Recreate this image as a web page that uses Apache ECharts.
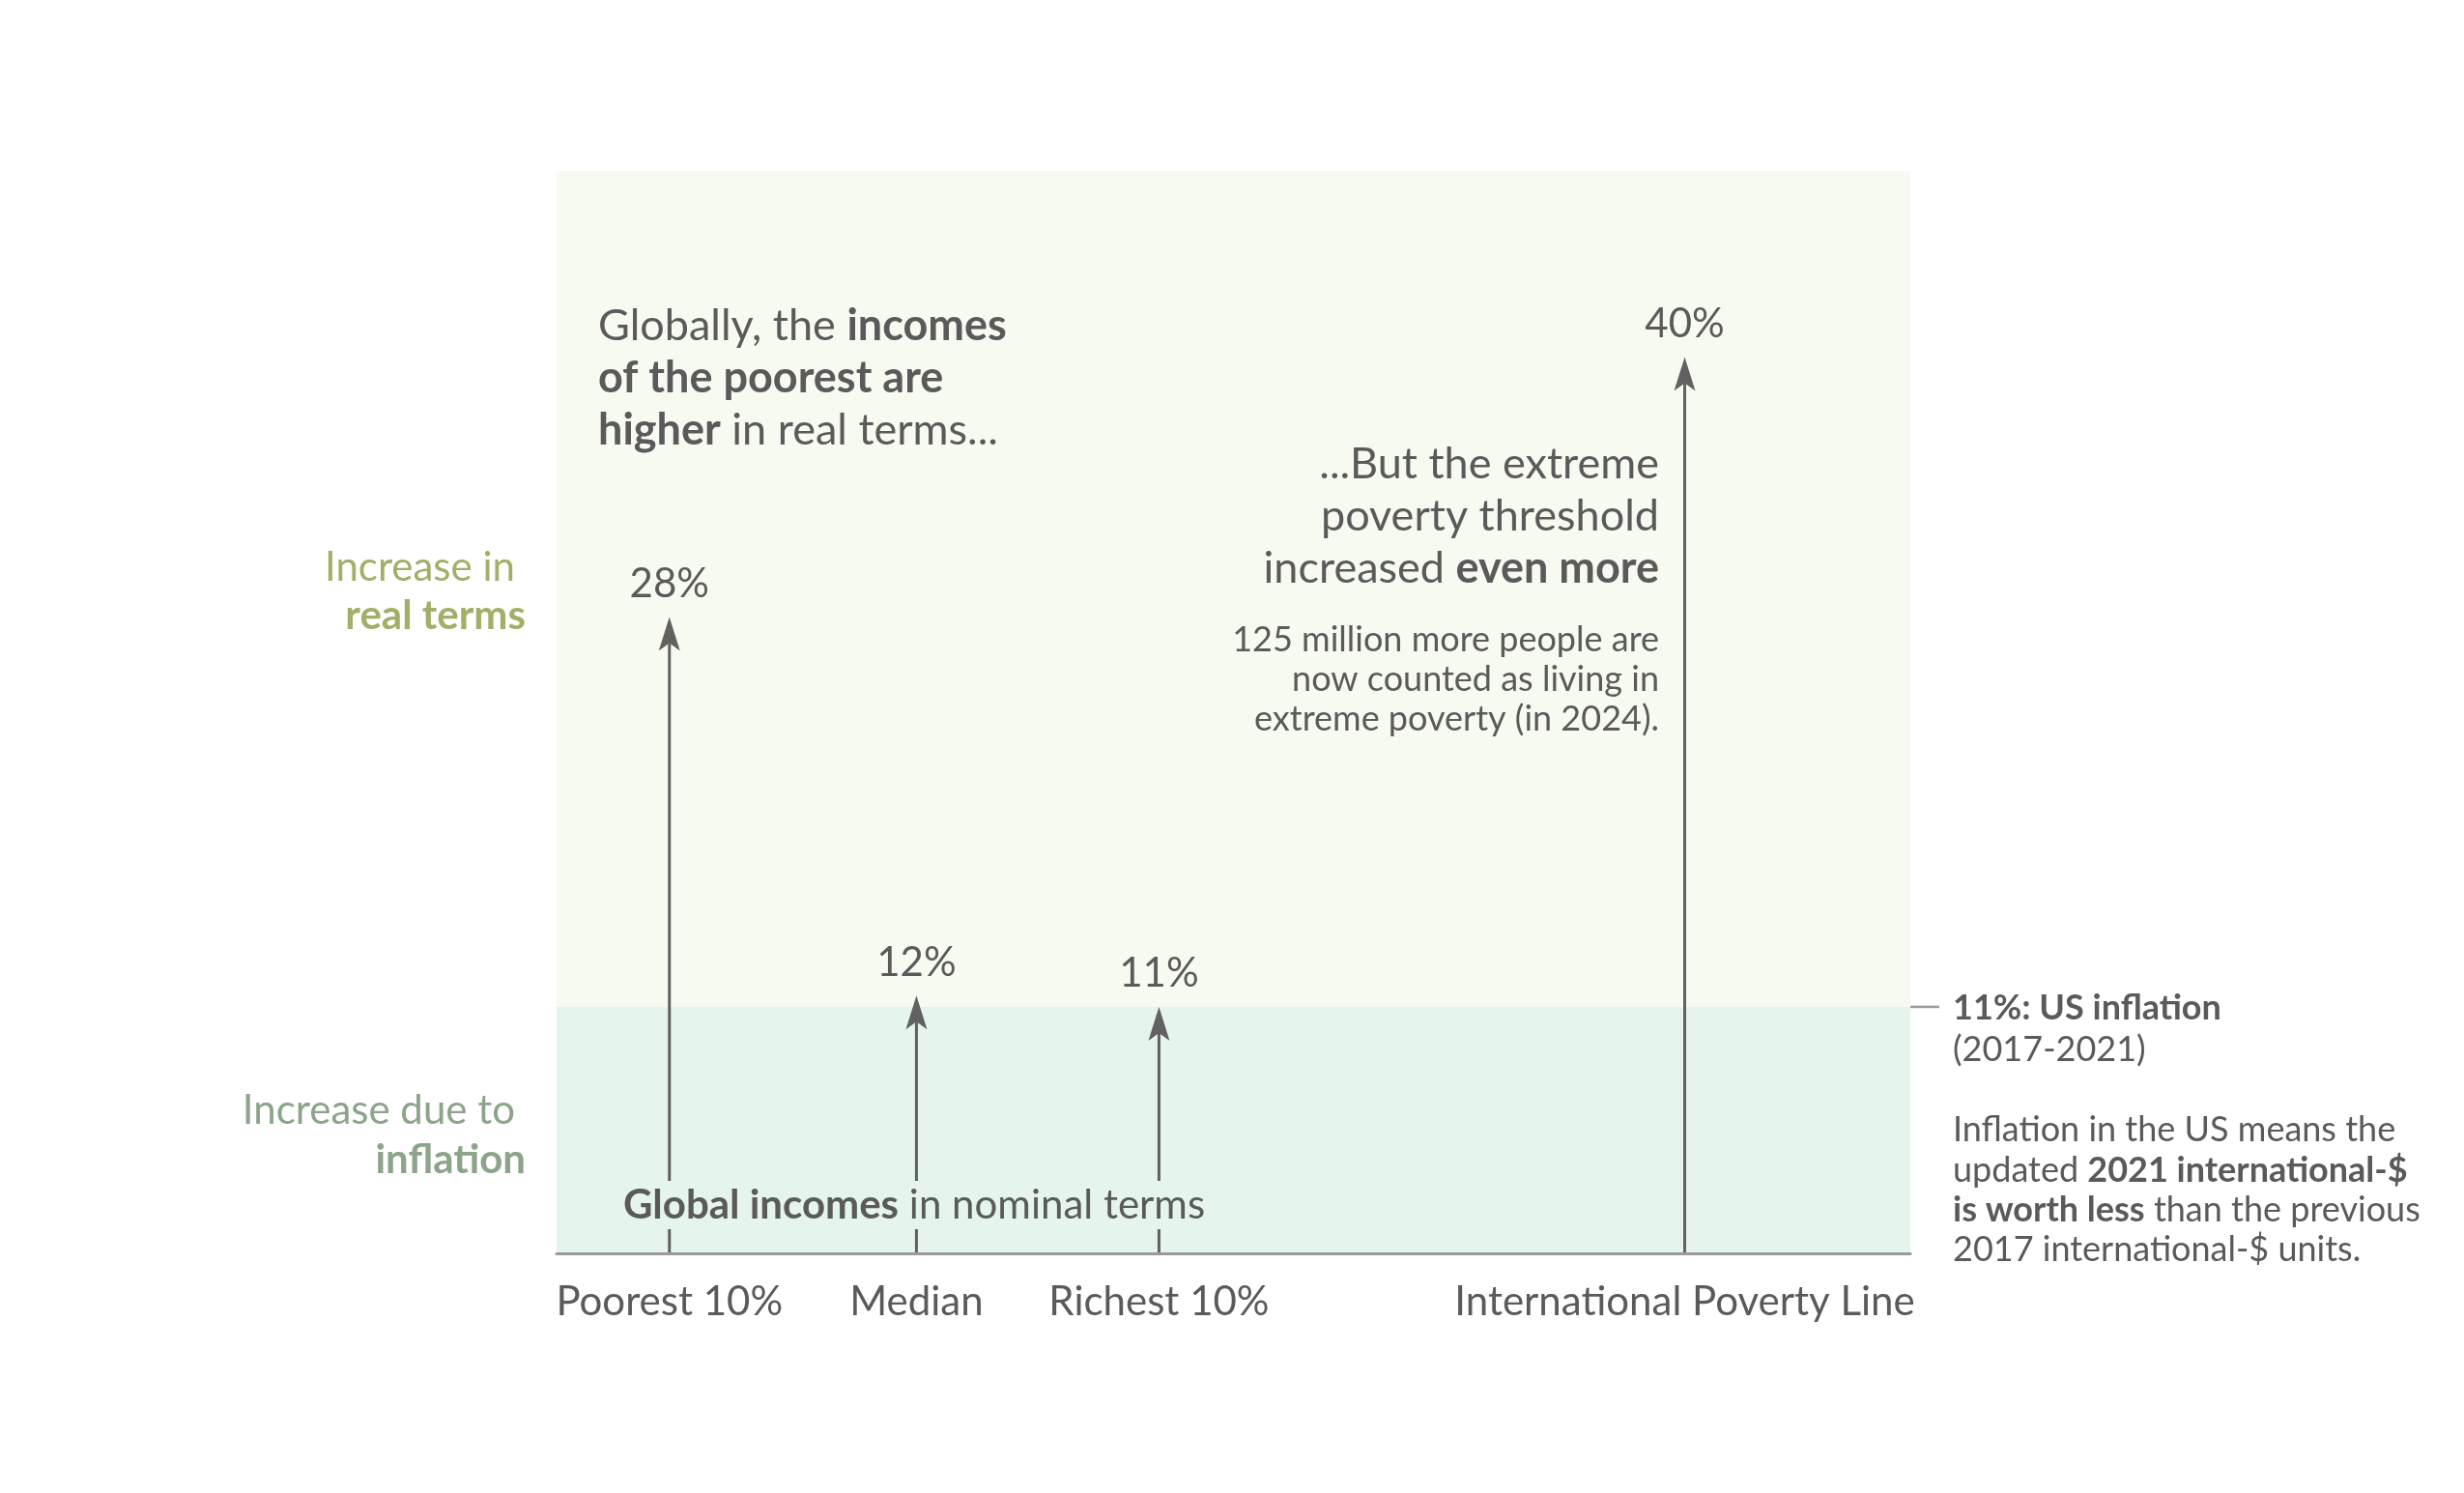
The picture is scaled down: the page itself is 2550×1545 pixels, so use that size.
<!DOCTYPE html>
<html>
<head>
<meta charset="utf-8">
<script src="https://cdn.jsdelivr.net/npm/echarts@6.0.0/dist/echarts.min.js"></script>
<style>
  html, body { margin: 0; padding: 0; background: #ffffff; }
  #chart { width: 2550px; height: 1545px; }
</style>
</head>
<body>
<div id="chart"></div>
<script>
// ---- data ----
const categories = ['Poorest 10%', 'Median', 'Richest 10%', 'International Poverty Line'];
const xPositions = [1, 3.19, 5.34, 10];
const increases = [28.4, 11.5, 11, 40];
const usInflation = 11;
const X_MAX = 12;
const Y_MAX = 48.3;

// ---- styles ----
const FONT = 'Lato';
const TEXT = '#5a5a5a';
const ARROW = '#616161';
const UPPER_BG = '#f7faf1';
const LOWER_BG = '#e5f5eb';
const REAL_GREEN = '#a3ae68';
const INFL_GREEN = '#8ca489';

const chart = echarts.init(document.getElementById('chart'), null, { renderer: 'canvas' });

const arrowData = xPositions.map((x, i) => [x, increases[i]]);

function rich(size, lh, color) {
  return {
    r: { fontFamily: FONT, fontSize: size, lineHeight: lh, fill: color || TEXT },
    b: { fontFamily: FONT, fontSize: size, lineHeight: lh, fill: color || TEXT, fontWeight: 'bold' }
  };
}

const option = {
  backgroundColor: '#ffffff',
  animation: false,
  grid: { left: 576, right: 573, top: 177, bottom: 248, containLabel: false, outerBoundsMode: 'none' },
  xAxis: {
    type: 'value', min: 0, max: X_MAX, z: 10,
    splitLine: { show: false },
    axisTick: { show: false },
    axisLine: { show: true, lineStyle: { color: '#9a9a9a', width: 3 } },
    axisLabel: {
      customValues: xPositions,
      formatter: function (v) {
        const i = xPositions.indexOf(v);
        return i >= 0 ? categories[i] : '';
      },
      fontFamily: FONT, fontSize: 42, color: TEXT, margin: 29, lineHeight: 42
    }
  },
  yAxis: {
    type: 'value', min: 0, max: Y_MAX, show: false,
    splitLine: { show: false }
  },
  series: [
    {
      type: 'custom',
      name: 'inflation',
      z: 1,
      clip: false,
      silent: true,
      data: [[X_MAX, usInflation]],
      renderItem: function (params, api) {
        const p = api.coord([api.value(0), api.value(1)]);
        return {
          type: 'line',
          shape: { x1: p[0], y1: p[1], x2: p[0] + 30, y2: p[1] },
          style: { stroke: '#9a9a9a', lineWidth: 2.5 }
        };
      },
      markArea: {
        silent: true,
        label: { show: false },
        data: [
          [{ xAxis: 0, yAxis: usInflation, itemStyle: { color: UPPER_BG } }, { xAxis: X_MAX, yAxis: Y_MAX }],
          [{ xAxis: 0, yAxis: 0, itemStyle: { color: LOWER_BG } }, { xAxis: X_MAX, yAxis: usInflation }]
        ]
      }
    },
    {
      type: 'custom',
      name: 'increase',
      z: 3,
      clip: false,
      silent: true,
      data: arrowData,
      renderItem: function (params, api) {
        const x = api.value(0), v = api.value(1);
        const base = api.coord([x, 0]);
        const tip = api.coord([x, v]);
        const headLen = 35, headHalf = 11, notch = 8;
        return {
          type: 'group',
          children: [
            {
              type: 'line',
              shape: { x1: base[0], y1: base[1], x2: tip[0], y2: tip[1] + headLen - notch },
              style: { stroke: ARROW, lineWidth: 3 }
            },
            {
              type: 'polygon',
              shape: { points: [[tip[0], tip[1]], [tip[0] - headHalf, tip[1] + headLen], [tip[0], tip[1] + headLen - notch], [tip[0] + headHalf, tip[1] + headLen]] },
              style: { fill: ARROW }
            },
            {
              type: 'text',
              x: tip[0], y: tip[1] - 34,
              style: {
                text: Math.round(v) + '%',
                align: 'center', verticalAlign: 'middle',
                fontFamily: FONT, fontSize: 42, fill: TEXT
              }
            }
          ]
        };
      }
    }
  ],
  graphic: [
    {
      type: 'text', x: 619, y: 310, z: 100,
      style: {
        text: '{r|Globally, the }{b|incomes}\n{b|of the poorest are}\n{b|higher}{r| in real terms...}',
        rich: rich(45, 54), align: 'left', verticalAlign: 'top'
      }
    },
    {
      type: 'text', x: 533, y: 587, z: 100,
      style: { text: 'Increase in', fontFamily: FONT, fontSize: 42, fill: REAL_GREEN, align: 'right', verticalAlign: 'middle' }
    },
    {
      type: 'text', x: 544, y: 637, z: 100,
      style: { text: 'real terms', fontFamily: FONT, fontSize: 42, fontWeight: 'bold', fill: REAL_GREEN, align: 'right', verticalAlign: 'middle' }
    },
    {
      type: 'text', x: 533, y: 1149, z: 100,
      style: { text: 'Increase due to', fontFamily: FONT, fontSize: 42, fill: INFL_GREEN, align: 'right', verticalAlign: 'middle' }
    },
    {
      type: 'text', x: 544, y: 1200, z: 100,
      style: { text: 'inflation', fontFamily: FONT, fontSize: 42, fontWeight: 'bold', fill: INFL_GREEN, align: 'right', verticalAlign: 'middle' }
    },
    {
      type: 'text', x: 1717, y: 453, z: 100,
      style: {
        text: '{r|...But the extreme}\n{r|poverty threshold}\n{r|increased }{b|even more}',
        rich: rich(45, 54), align: 'right', verticalAlign: 'top'
      }
    },
    {
      type: 'text', x: 1717, y: 642, z: 100,
      style: {
        text: '{r|125 million more people are}\n{r|now counted as living in}\n{r|extreme poverty (in 2024).}',
        rich: rich(36, 41), align: 'right', verticalAlign: 'top'
      }
    },
    {
      type: 'text', x: 946, y: 1247, z: 100,
      style: {
        text: '{b|Global incomes}{r| in nominal terms}',
        rich: rich(42, 40), align: 'center', verticalAlign: 'middle',
        backgroundColor: LOWER_BG, padding: [5, 12]
      }
    },
    {
      type: 'text', x: 2021, y: 1022, z: 100,
      style: {
        text: '{b|11%: US inflation}\n{r|(2017-2021)}',
        rich: rich(36, 43), align: 'left', verticalAlign: 'top'
      }
    },
    {
      type: 'text', x: 2021, y: 1149, z: 100,
      style: {
        text: '{r|Inflation in the US means the}\n{r|updated }{b|2021 international-$}\n{b|is worth less}{r| than the previous}\n{r|2017 international-$ units.}',
        rich: rich(36, 41.3), align: 'left', verticalAlign: 'top'
      }
    }
  ]
};

chart.setOption(option);
</script>
</body>
</html>
